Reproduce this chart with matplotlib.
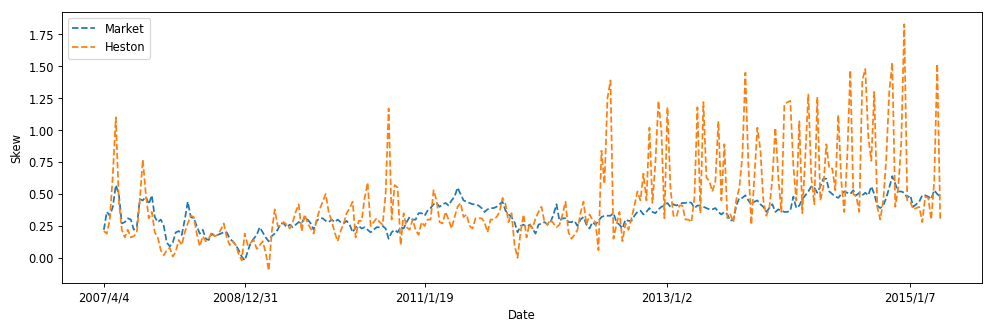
"""
Market vs Heston skew

Weekly skew of the market smile against the Heston-implied one.
Writes out.png.
"""

import matplotlib
matplotlib.use("Agg")
import matplotlib.pyplot as plt
import numpy as np


# weekly observations, plotted by position (dates are only used for ticks)
market = [
    0.22, 0.36, 0.33, 0.40, 0.57, 0.50, 0.27, 0.28, 0.31, 0.30,
    0.22, 0.24, 0.46, 0.45, 0.48, 0.42, 0.49, 0.32, 0.28, 0.30,
    0.25, 0.12, 0.09, 0.12, 0.20, 0.21, 0.18, 0.30, 0.44, 0.32,
    0.31, 0.25, 0.19, 0.22, 0.15, 0.14, 0.19, 0.17, 0.18, 0.19,
    0.20, 0.20, 0.15, 0.13, 0.10, 0.06, 0.01, -0.02, 0.05, 0.12,
    0.15, 0.18, 0.24, 0.20, 0.16, 0.13, 0.17, 0.19, 0.22, 0.27,
    0.27, 0.24, 0.26, 0.24, 0.26, 0.28, 0.27, 0.32, 0.30, 0.27,
    0.22, 0.29, 0.31, 0.31, 0.29, 0.28, 0.30, 0.28, 0.30, 0.28,
    0.27, 0.29, 0.26, 0.20, 0.24, 0.25, 0.23, 0.24, 0.22, 0.20,
    0.22, 0.24, 0.24, 0.25, 0.23, 0.15, 0.20, 0.22, 0.20, 0.24,
    0.23, 0.28, 0.32, 0.30, 0.30, 0.35, 0.35, 0.33, 0.37, 0.39,
    0.42, 0.43, 0.40, 0.42, 0.43, 0.41, 0.45, 0.48, 0.55, 0.50,
    0.45, 0.44, 0.43, 0.42, 0.42, 0.41, 0.39, 0.36, 0.38, 0.39,
    0.39, 0.40, 0.42, 0.44, 0.37, 0.34, 0.32, 0.28, 0.20, 0.25,
    0.26, 0.24, 0.26, 0.23, 0.19, 0.26, 0.27, 0.28, 0.26, 0.28,
    0.34, 0.42, 0.29, 0.31, 0.31, 0.28, 0.28, 0.29, 0.25, 0.30,
    0.32, 0.26, 0.23, 0.28, 0.26, 0.29, 0.32, 0.33, 0.33, 0.33,
    0.35, 0.28, 0.26, 0.23, 0.30, 0.29, 0.29, 0.33, 0.36, 0.37,
    0.34, 0.36, 0.39, 0.36, 0.35, 0.38, 0.40, 0.41, 0.43, 0.40,
    0.42, 0.41, 0.42, 0.43, 0.43, 0.44, 0.43, 0.39, 0.41, 0.41,
    0.40, 0.39, 0.38, 0.38, 0.39, 0.36, 0.34, 0.36, 0.34, 0.29,
    0.30, 0.41, 0.47, 0.47, 0.49, 0.45, 0.42, 0.44, 0.45, 0.42,
    0.40, 0.36, 0.39, 0.42, 0.36, 0.38, 0.37, 0.36, 0.36, 0.37,
    0.48, 0.39, 0.41, 0.46, 0.49, 0.52, 0.56, 0.55, 0.51, 0.56,
    0.62, 0.62, 0.52, 0.50, 0.48, 0.47, 0.50, 0.52, 0.51, 0.50,
    0.53, 0.49, 0.51, 0.49, 0.51, 0.49, 0.56, 0.50, 0.41, 0.39,
    0.41, 0.47, 0.55, 0.64, 0.58, 0.52, 0.52, 0.51, 0.47, 0.49,
    0.40, 0.42, 0.44, 0.49, 0.49, 0.48, 0.46, 0.53, 0.50, 0.48,
]

heston = [
    0.21, 0.19, 0.30, 0.65, 1.10, 0.45, 0.22, 0.16, 0.22, 0.16,
    0.17, 0.20, 0.45, 0.77, 0.50, 0.31, 0.36, 0.20, 0.16, 0.06,
    0.02, 0.06, 0.08, 0.01, 0.05, 0.14, 0.10, 0.20, 0.27, 0.33,
    0.32, 0.19, 0.09, 0.17, 0.13, 0.15, 0.20, 0.17, 0.18, 0.22,
    0.27, 0.16, 0.10, 0.13, 0.10, 0.03, -0.02, 0.19, 0.10, 0.12,
    0.14, 0.07, 0.10, 0.13, 0.04, -0.10, 0.20, 0.38, 0.25, 0.25,
    0.28, 0.26, 0.23, 0.28, 0.36, 0.42, 0.21, 0.34, 0.27, 0.23,
    0.19, 0.30, 0.38, 0.44, 0.50, 0.36, 0.29, 0.20, 0.13, 0.21,
    0.27, 0.35, 0.39, 0.44, 0.16, 0.29, 0.29, 0.47, 0.59, 0.25,
    0.28, 0.31, 0.28, 0.26, 0.50, 1.17, 0.30, 0.57, 0.55, 0.10,
    0.35, 0.24, 0.22, 0.30, 0.22, 0.18, 0.28, 0.25, 0.30, 0.30,
    0.53, 0.45, 0.28, 0.27, 0.36, 0.30, 0.23, 0.32, 0.40, 0.43,
    0.32, 0.34, 0.25, 0.23, 0.31, 0.31, 0.31, 0.28, 0.20, 0.30,
    0.30, 0.32, 0.36, 0.47, 0.42, 0.28, 0.35, 0.10, 0.00, 0.20,
    0.34, 0.16, 0.27, 0.23, 0.31, 0.36, 0.40, 0.28, 0.26, 0.30,
    0.27, 0.24, 0.26, 0.34, 0.44, 0.20, 0.15, 0.18, 0.22, 0.35,
    0.44, 0.26, 0.34, 0.30, 0.28, 0.06, 0.84, 0.58, 1.25, 1.39,
    0.15, 0.26, 0.36, 0.13, 0.27, 0.22, 0.31, 0.41, 0.52, 0.45,
    0.66, 0.45, 1.02, 0.43, 0.75, 1.23, 0.99, 0.31, 1.18, 0.55,
    0.33, 0.32, 0.41, 0.41, 0.30, 0.30, 0.28, 0.47, 1.18, 0.35,
    1.22, 0.63, 0.60, 0.52, 0.60, 1.07, 0.45, 0.89, 0.31, 0.34,
    0.28, 0.46, 0.55, 0.80, 1.45, 0.73, 0.26, 0.63, 1.02, 0.85,
    0.45, 0.33, 0.39, 0.62, 1.02, 0.63, 0.36, 1.20, 1.22, 1.23,
    0.72, 0.45, 1.07, 0.35, 0.80, 1.28, 0.63, 0.42, 1.26, 0.45,
    0.55, 0.89, 0.70, 0.70, 0.53, 1.12, 0.60, 0.36, 0.80, 1.47,
    0.50, 0.48, 0.36, 1.39, 1.48, 0.95, 0.76, 1.30, 0.40, 0.30,
    0.45, 0.78, 1.30, 1.53, 0.40, 0.55, 0.90, 1.83, 0.45, 0.44,
    0.38, 0.39, 0.40, 0.28, 0.48, 0.47, 0.30, 0.60, 1.52, 0.30,
]

tick_pos    = [0, 47, 107, 188, 269]
tick_labels = ["2007/4/4", "2008/12/31", "2011/1/19", "2013/1/2", "2015/1/7"]


def main():
    x = np.arange(len(market))

    # drawn as a 12x4 figure, saved small
    fig, ax = plt.subplots(figsize=(12, 4))
    fig.subplots_adjust(left=0.0622, right=0.985, bottom=0.1476, top=0.963)

    ax.plot(x, market, linestyle="--", label="Market")
    ax.plot(x, heston, linestyle="--", label="Heston")

    ax.set_xticks(tick_pos)
    ax.set_xticklabels(tick_labels)
    ax.set_xlabel("Date")
    ax.set_ylabel("Skew")
    ax.legend(loc="upper left")

    fig.savefig("out.png", dpi=997 / 12)
    plt.close(fig)


if __name__ == "__main__":
    main()
